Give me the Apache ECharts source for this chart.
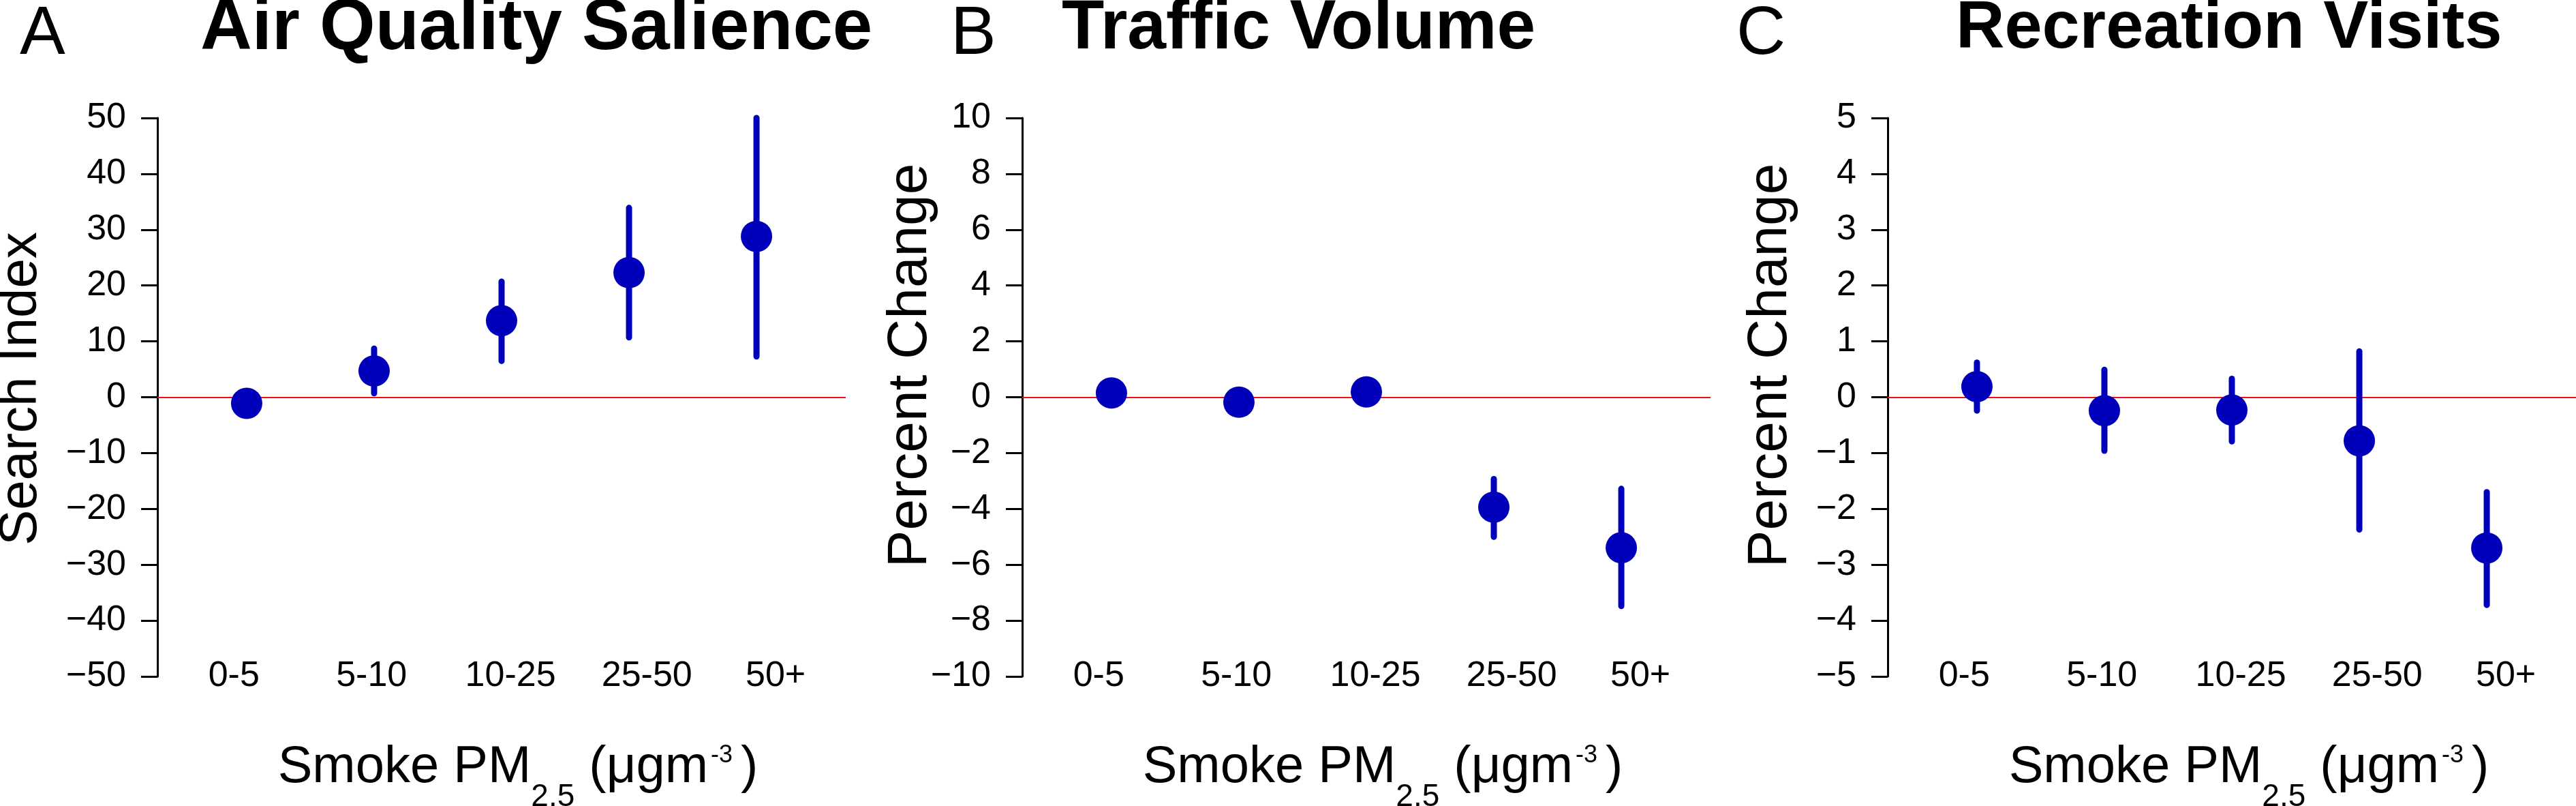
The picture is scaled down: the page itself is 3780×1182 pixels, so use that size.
<!DOCTYPE html>
<html>
<head>
<meta charset="utf-8">
<script src="https://cdn.jsdelivr.net/npm/echarts@6/dist/echarts.min.js"></script>
<style>
  html, body { margin: 0; padding: 0; background: #ffffff; }
  #chart { width: 3780px; height: 1182px; }
</style>
</head>
<body>
<div id="chart"></div>
<script>
// ---------------- data ----------------
const categories = ['0-5', '5-10', '10-25', '25-50', '50+'];

const searchEst  = [-1.1, 4.7, 13.7, 22.3, 28.8];
const searchLow  = [-2.6, 0.7, 6.5, 10.7, 7.3];
const searchHigh = [0.4, 8.7, 20.7, 33.9, 50.0];

const trafficEst  = [0.15, -0.18, 0.19, -3.94, -5.39];
const trafficLow  = [-0.15, -0.45, -0.1, -5.0, -7.48];
const trafficHigh = [0.45, 0.1, 0.5, -2.93, -3.28];

const recEst  = [0.19, -0.24, -0.23, -0.78, -2.70];
const recLow  = [-0.24, -0.96, -0.79, -2.37, -3.72];
const recHigh = [0.62, 0.49, 0.33, 0.82, -1.70];

const yTicksA = [-50, -40, -30, -20, -10, 0, 10, 20, 30, 40, 50];
const yTicksB = [-10, -8, -6, -4, -2, 0, 2, 4, 6, 8, 10];
const yTicksC = [-5, -4, -3, -2, -1, 0, 1, 2, 3, 4, 5];

const panelLetters = ['A', 'B', 'C'];
const panelTitles = ['Air Quality Salience', 'Traffic Volume', 'Recreation Visits'];
const yTitles = ['Search Index', 'Percent Change', 'Percent Change'];

// ---------------- layout / style ----------------
const FONT = '"Liberation Sans", Arial, Helvetica, sans-serif';
const BLUE = '#0000BB';
const labelAt = [0.9, 1.98, 3.07, 4.14, 5.15]; // x-label anchor positions (layout)

const panels = [
  { est: searchEst, low: searchLow, high: searchHigh, ticks: yTicksA, left: 231 },
  { est: trafficEst, low: trafficLow, high: trafficHigh, ticks: yTicksB, left: 1500 },
  { est: recEst, low: recLow, high: recHigh, ticks: yTicksC, left: 2770 }
];

const grids = [], xAxes = [], yAxes = [], series = [];

panels.forEach((p, i) => {
  grids.push({ left: p.left, top: 173, width: 1010, height: 819, containLabel: false });
  xAxes.push({
    type: 'value', gridIndex: i, min: 0.3, max: 5.7,
    axisLine: { show: false, onZero: false },
    axisTick: { show: false },
    splitLine: { show: false },
    axisLabel: {
      customValues: labelAt,
      formatter: v => {
        let k = 0, best = 1e9;
        labelAt.forEach((a, j) => { if (Math.abs(a - v) < best) { best = Math.abs(a - v); k = j; } });
        return categories[k];
      },
      fontFamily: FONT, fontSize: 52, color: '#000',
      margin: 0, verticalAlign: 'middle'
    }
  });
  const mn = p.ticks[0], mx = p.ticks[p.ticks.length - 1];
  yAxes.push({
    type: 'value', gridIndex: i, min: mn, max: mx, interval: p.ticks[1] - p.ticks[0],
    axisLine: { show: true, onZero: false, lineStyle: { color: '#000', width: 3 } },
    axisTick: { show: true, length: 24, lineStyle: { color: '#000', width: 3 } },
    splitLine: { show: false },
    axisLabel: {
      fontFamily: FONT, fontSize: 52, color: '#000', margin: 46,
      formatter: v => String(v).replace('-', '\u2212')
    }
  });
  series.push({
    type: 'custom', xAxisIndex: i, yAxisIndex: i, z: 3, silent: true,
    data: categories.map((c, j) => [j + 1, p.low[j], p.high[j]]),
    encode: { x: 0, y: [1, 2] },
    renderItem: (params, api) => {
      const x = api.value(0);
      const a = api.coord([x, api.value(1)]);
      const b = api.coord([x, api.value(2)]);
      return { type: 'line', shape: { x1: a[0], y1: a[1], x2: b[0], y2: b[1] },
               style: { stroke: BLUE, lineWidth: 9, lineCap: 'round' } };
    },
    markLine: {
      silent: true, symbol: 'none', label: { show: false }, z: 1,
      lineStyle: { color: '#EE1111', width: 2, type: 'solid' },
      data: [{ yAxis: 0 }]
    }
  });
  series.push({
    type: 'scatter', xAxisIndex: i, yAxisIndex: i, z: 5, silent: true,
    symbol: 'circle', symbolSize: 46,
    itemStyle: { color: BLUE, opacity: 1 },
    data: categories.map((c, j) => [j + 1, p.est[j]])
  });
});

// titles and axis titles
const letterX = [29, 1395, 2548];
const titleX = [294, 1558, 2870];
const titleSize = [105, 102, 99];
const yTitleX = [31, 1336, 2598];
const yTitleY = [570, 536, 536];
const yTitleSize = [78, 82, 82];
const xTitleX = [760, 2029, 3300];

const graphic = [];
for (let i = 0; i < 3; i++) {
  graphic.push({ type: 'text', x: letterX[i], y: 51,
    style: { text: panelLetters[i], font: '100px ' + FONT, fill: '#000',
             align: 'left', verticalAlign: 'middle', textAlign: 'left', textVerticalAlign: 'middle' } });
  graphic.push({ type: 'text', x: titleX[i], y: 43,
    style: { text: panelTitles[i], font: 'bold ' + titleSize[i] + 'px ' + FONT, fill: '#000',
             align: 'left', verticalAlign: 'middle', textAlign: 'left', textVerticalAlign: 'middle' } });
  graphic.push({ type: 'text', x: yTitleX[i], y: yTitleY[i], rotation: Math.PI / 2,
    style: { text: yTitles[i], font: yTitleSize[i] + 'px ' + FONT, fill: '#000',
             align: 'center', verticalAlign: 'middle', textAlign: 'center', textVerticalAlign: 'middle' } });
  graphic.push({ type: 'text', x: xTitleX[i], y: 1126,
    style: {
      text: '{m|Smoke PM}{s|2.5}{m| (\u03bcgm}{p|-3}{m|)}',
      fill: '#000', align: 'center', verticalAlign: 'middle', textAlign: 'center', textVerticalAlign: 'middle',
      rich: {
        m: { fontFamily: FONT, fontSize: 76, fill: '#000', color: '#000' },
        s: { fontFamily: FONT, fontSize: 46, fill: '#000', color: '#000', padding: [86, 0, 0, 0] },
        p: { fontFamily: FONT, fontSize: 36, fill: '#000', color: '#000', padding: [0, 12, 36, 4] }
      }
    } });
}

const chart = echarts.init(document.getElementById('chart'), null, { renderer: 'canvas' });
chart.setOption({
  backgroundColor: '#ffffff',
  animation: false,
  grid: grids,
  xAxis: xAxes,
  yAxis: yAxes,
  series: series,
  graphic: graphic
});
</script>
</body>
</html>
